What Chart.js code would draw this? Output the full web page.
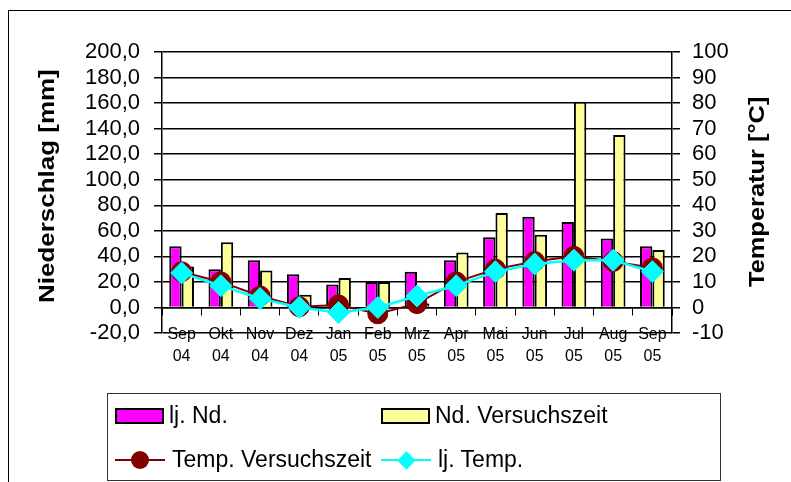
<!DOCTYPE html>
<html>
<head>
<meta charset="utf-8">
<script src="https://cdn.jsdelivr.net/npm/chart.js@4"></script>
<style>
  html, body { margin: 0; padding: 0; background: #fff; }
  #wrap { position: relative; width: 791px; height: 482px; overflow: hidden; background: #fff; }
  canvas { display: block; position: absolute; left: 0; top: 0; }
  #frame {
    position: absolute; left: 8px; top: 10px; width: 820px; height: 520px;
    border-left: 1px solid #000; border-top: 1px solid #000; pointer-events: none;
  }
  .vtitle { position: absolute; width: 0; height: 0; }
  .vtitle span {
    position: absolute; left: 0; top: 0; white-space: nowrap; color: #000;
    font: bold 22px/22px 'Liberation Sans', Arial, Helvetica, sans-serif;
    transform-origin: 0 0;
  }
  #titleLeft { left: 47px; top: 303px; }
  #titleLeft span { transform: rotate(-90deg) scaleX(1.18) translateY(-50%); }
  #titleRight { left: 757px; top: 287px; }
  #titleRight span { transform: rotate(-90deg) scaleX(1.155) translateY(-50%); }
  #legendBox {
    position: absolute; left: 107px; top: 393px; width: 614px; height: 88px;
    box-sizing: border-box; border: 1px solid #333;
  }
  .lg { position: absolute; }
  .lgText {
    position: absolute; white-space: nowrap; color: #000;
    font: 23px/26px 'Liberation Sans', Arial, Helvetica, sans-serif;
  }
</style>
</head>
<body>
<div id="wrap">
  <canvas id="klima" width="791" height="482"></canvas>
  <div id="frame"></div>
  <div class="vtitle" id="titleLeft"><span></span></div>
  <div class="vtitle" id="titleRight"><span></span></div>
  <div id="legendBox"></div>
  <div id="legend"></div>
</div>
<script>
// Monatskategorien (Monat / Jahr)
const months = [
  ['Sep', '04'], ['Okt', '04'], ['Nov', '04'], ['Dez', '04'],
  ['Jan', '05'], ['Feb', '05'], ['Mrz', '05'], ['Apr', '05'],
  ['Mai', '05'], ['Jun', '05'], ['Jul', '05'], ['Aug', '05'], ['Sep', '05']
];

// Niederschlag [mm]
const ljNd           = [48, 30, 37, 26, 18, 20, 28, 37, 55, 71, 67, 54, 48];
const ndVersuchszeit = [32, 51, 29, 10, 23, 20, 3, 43, 74, 57, 161, 135, 45];

// Temperatur [°C]
const tempVersuchszeit = [14, 10, 4.5, 0.3, 1, -2.5, 1.5, 10, 15, 18, 20, 18, 15.5];
const ljTemp           = [13.5, 8.5, 3.5, 0, -2, 0, 4.5, 8.5, 14, 17, 18.5, 18.5, 14];

// Achsenbereiche [min, max, Schritt]
const mmRange   = [-20, 200, 20];
const tempRange = [-10, 100, 10];

const seriesNames = ['lj. Nd.', 'Nd. Versuchszeit', 'Temp. Versuchszeit', 'lj. Temp.'];
const titleLeft  = 'Niederschlag [mm]';
const titleRight = 'Temperatur [°C]';

const FONT = "'Liberation Sans', Arial, Helvetica, sans-serif";
Chart.defaults.font.family = FONT;
Chart.defaults.color = '#000';

// Software-Canvas anfordern, bevor Chart.js den Kontext holt
const canvas = document.getElementById('klima');
canvas.getContext('2d', { willReadFrequently: true });

const chart = new Chart(canvas, {
  data: {
    labels: months,
    datasets: [
      {
        type: 'bar', label: seriesNames[0], data: ljNd, yAxisID: 'yMm',
        backgroundColor: '#FF00FF', borderColor: '#000', borderWidth: 2,
        categoryPercentage: 0.63, barPercentage: 1.0, order: 2
      },
      {
        type: 'bar', label: seriesNames[1], data: ndVersuchszeit, yAxisID: 'yMm',
        backgroundColor: '#FFFF99', borderColor: '#000', borderWidth: 2,
        categoryPercentage: 0.63, barPercentage: 1.0, order: 3
      },
      {
        type: 'line', label: seriesNames[2], data: tempVersuchszeit, yAxisID: 'yTemp',
        borderColor: '#800000', borderWidth: 2, tension: 0,
        pointStyle: 'circle', pointRadius: 10, pointBackgroundColor: '#800000',
        pointBorderColor: '#800000', pointBorderWidth: 1, order: 1
      },
      {
        type: 'line', label: seriesNames[3], data: ljTemp, yAxisID: 'yTemp',
        borderColor: '#00FFFF', borderWidth: 2.5, tension: 0,
        pointStyle: 'rectRot', pointRadius: 11, pointBackgroundColor: '#00FFFF',
        pointBorderColor: '#00FFFF', pointBorderWidth: 1, order: 0
      }
    ]
  },
  options: {
    responsive: false,
    animation: false,
    layout: { padding: { left: 8, right: 0, top: 52, bottom: 149 } },
    plugins: {
      legend: { display: false },
      tooltip: { enabled: false }
    },
    scales: {
      x: {
        type: 'category',
        position: { yMm: 0 },
        offset: true,
        grid: {
          display: true, offset: true, drawOnChartArea: false,
          drawTicks: true, tickLength: 7, color: '#000', lineWidth: 1
        },
        border: { display: true, color: '#000', width: 1.5 },
        ticks: {
          font: { size: 16, lineHeight: 1.375 },
          padding: 9, maxRotation: 0, minRotation: 0, autoSkip: false
        }
      },
      yMm: {
        type: 'linear', position: 'left',
        min: mmRange[0], max: mmRange[1],
        afterFit(scale) { scale.width = 154; },
        grid: { color: '#000', lineWidth: 1.5, tickLength: 8 },
        border: { display: true, color: '#000', width: 1.5 },
        ticks: {
          stepSize: mmRange[2], autoSkip: false, font: { size: 22 }, padding: 14,
          callback: v => v.toFixed(1).replace('.', ',')
        }
      },
      yTemp: {
        type: 'linear', position: 'right',
        min: tempRange[0], max: tempRange[1],
        afterFit(scale) { scale.width = 119; },
        grid: { drawOnChartArea: false, color: '#000', lineWidth: 1.5, tickLength: 8 },
        border: { display: true, color: '#000', width: 1.5 },
        ticks: {
          stepSize: tempRange[2], autoSkip: false, font: { size: 22 }, padding: 12
        }
      }
    }
  }
});

// Achsentitel
document.querySelector('#titleLeft span').textContent = titleLeft;
document.querySelector('#titleRight span').textContent = titleRight;

// Legende aus den Datensätzen aufbauen
const legend = document.getElementById('legend');
const slots = [[115, 416], [381, 416], [115, 460], [381, 460]];
const box = (left, top, w, h, css) => {
  const d = document.createElement('div');
  d.className = 'lg';
  Object.assign(d.style, { left: left + 'px', top: top + 'px', width: w + 'px', height: h + 'px' }, css);
  legend.appendChild(d);
  return d;
};
chart.data.datasets.forEach((ds, i) => {
  const [x, y] = slots[i];
  let textX;
  if (ds.type === 'bar') {
    box(x, y - 8, 49, 16, { boxSizing: 'border-box', border: '2px solid #000', background: ds.backgroundColor });
    textX = x + 54;
  } else {
    box(x, y - 1, 50, 2, { background: ds.borderColor });
    if (ds.pointStyle === 'rectRot') {
      box(x + 25 - 6.5, y - 6.5, 13, 13, { background: ds.pointBackgroundColor, transform: 'rotate(45deg)' });
    } else {
      box(x + 25 - 9, y - 9, 18, 18, { background: ds.pointBackgroundColor, borderRadius: '50%' });
    }
    textX = x + 57;
  }
  const t = document.createElement('div');
  t.className = 'lgText';
  t.style.left = textX + 'px';
  t.style.top = (y - 14.5) + 'px';
  t.textContent = ds.label;
  legend.appendChild(t);
});
</script>
</body>
</html>
